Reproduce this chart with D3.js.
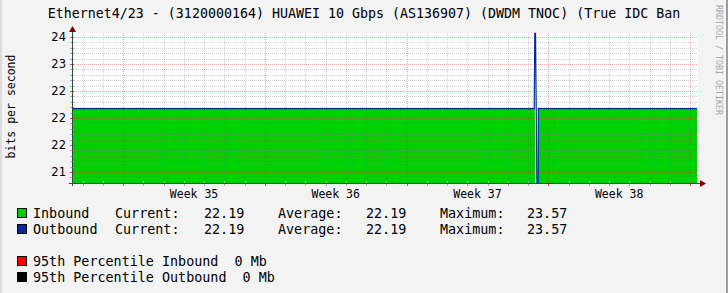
<!DOCTYPE html>
<html>
  <head>
    <meta charset="utf-8" />
    <title>Traffic</title>
    <script src="https://d3js.org/d3.v7.min.js"></script>
    <style>
      body { margin: 0; background: #f3f3f3; }
      svg { display: block; }
      text { font-family: 'DejaVu Sans Mono', monospace; fill: #000; }
    </style>
  </head>
  <body>
    <script>
      const title = 'Ethernet4/23 - (3120000164) HUAWEI 10 Gbps (AS136907) (DWDM TNOC) (True IDC Ban';
      const yTitle = 'bits per second';
      const watermark = 'RRDTOOL / TOBI OETIKER';

      // samples (UTC), values in axis units
      const sampleTimes = [
        '2023-08-25T11:18Z', '2023-09-17T07:20Z', '2023-09-17T08:00Z', '2023-09-17T08:50Z',
        '2023-09-17T10:30Z', '2023-09-17T12:00Z', '2023-09-17T12:10Z', '2023-09-25T08:18Z',
      ];
      const inbound = [22.41, 22.41, 22.41, 0, 0, 0, 22.41, 22.41];
      const outbound = [22.41, 22.41, 24.08, 24.08, 0, 0, 22.41, 22.41];

      const yTicks = [21, 21.6, 22.2, 22.8, 23.4, 24];
      const yTickLabels = ['21', '22', '22', '22', '23', '24'];

      const seriesNames = ['Inbound', 'Outbound'];
      const seriesColors = ['#00cf00', '#002a97'];
      const currentVals = ['22.19', '22.19'];
      const averageVals = ['22.19', '22.19'];
      const maximumVals = ['23.57', '23.57'];

      const pctNames = ['95th Percentile Inbound', '95th Percentile Outbound'];
      const pctVals = ['0 Mb', '0 Mb'];
      const pctColors = ['#ff0000', '#000000'];

      const W = 728, H = 293;
      const pL = 72, pR = 697, pT = 33, pB = 183;

      const svg = d3.select('body').append('svg').attr('width', W).attr('height', H);

      svg.append('rect').attr('width', W).attr('height', H).attr('fill', '#f3f3f3');
      svg.append('rect').attr('x', 0).attr('y', 0).attr('width', 2).attr('height', H).attr('fill', '#dcdcdc');
      svg.append('rect').attr('x', W - 2).attr('y', 0).attr('width', 2).attr('height', H).attr('fill', '#9e9e9e');

      const times = sampleTimes.map((s) => new Date(s));
      const x = d3.scaleUtc().domain([times[0], times[times.length - 1]]).range([pL, pR]);
      const y = d3.scaleLinear().domain([20.7556, 24.0889]).range([pB, pT]).clamp(true);

      // canvas
      svg.append('rect')
        .attr('x', pL).attr('y', pT)
        .attr('width', pR - pL + 1).attr('height', pB - pT)
        .attr('fill', '#fff');

      // inbound area
      const pts = times.map((t, i) => ({ t: t, inb: inbound[i], out: outbound[i] }));
      svg.append('path')
        .datum(pts)
        .attr('fill', seriesColors[0])
        .attr('d', d3.area().x((d) => x(d.t)).y0(y(y.domain()[0])).y1((d) => y(d.inb)));

      // grid
      const grid = svg.append('g').attr('shape-rendering', 'crispEdges');
      const days = d3.utcDay.range(x.domain()[0], x.domain()[1]);
      const weeks = d3.utcMonday.range(d3.utcMonday.floor(x.domain()[0]), x.domain()[1]);
      const isWeek = (d) => d.getUTCDay() === 1;
      const isMajor = (v) => yTicks.some((t) => Math.abs(t - v) < 1e-6);
      const majorCol = 'rgba(220,40,40,0.4)';
      const minorCol = 'rgba(120,120,120,0.35)';
      grid.selectAll('.vg')
        .data(days)
        .join('line')
        .attr('x1', (d) => Math.round(x(d)) + 0.5)
        .attr('x2', (d) => Math.round(x(d)) + 0.5)
        .attr('y1', pT).attr('y2', pB)
        .attr('stroke', (d) => (isWeek(d) ? majorCol : minorCol))
        .attr('stroke-dasharray', '1,1');

      const minor = d3.range(-2, 27).map((k) => 21 + k * 0.12).filter((v) => v > 20.8 && v < 24.08);
      grid.selectAll('.hg')
        .data(minor)
        .join('line')
        .attr('x1', pL).attr('x2', pR)
        .attr('y1', (d) => Math.round(y(d)) + 0.5)
        .attr('y2', (d) => Math.round(y(d)) + 0.5)
        .attr('stroke', (d) => (isMajor(d) ? majorCol : minorCol))
        .attr('stroke-dasharray', '1,1');

      // ticks on the axes
      grid.selectAll('.yt')
        .data(minor)
        .join('line')
        .attr('x1', pL - 2).attr('x2', pL + 2)
        .attr('y1', (d) => Math.round(y(d)) + 0.5)
        .attr('y2', (d) => Math.round(y(d)) + 0.5)
        .attr('stroke', (d) => (isMajor(d) ? '#c85050' : '#aaa'));
      grid.selectAll('.xt')
        .data(days)
        .join('line')
        .attr('x1', (d) => Math.round(x(d)) + 0.5)
        .attr('x2', (d) => Math.round(x(d)) + 0.5)
        .attr('y1', pB - 2).attr('y2', pB + 3)
        .attr('stroke', (d) => (isWeek(d) ? '#c85050' : '#aaa'));

      // outbound line
      svg.append('path')
        .datum(pts)
        .attr('fill', 'none')
        .attr('stroke', seriesColors[1])
        .attr('stroke-width', 1.2)
        .attr('d', d3.line().x((d) => x(d.t)).y((d) => y(d.out)));

      // axes
      const ax = svg.append('g').attr('shape-rendering', 'crispEdges');
      ax.append('line').attr('x1', pL - 3).attr('x2', pR + 3).attr('y1', pB + 0.5).attr('y2', pB + 0.5).attr('stroke', '#2c4d43');
      ax.append('line').attr('x1', pL + 0.5).attr('x2', pL + 0.5).attr('y1', pB + 3).attr('y2', pT - 3).attr('stroke', '#2c4d43');
      svg.append('path').attr('d', `M${pL - 3},${pT - 1}L${pL + 4},${pT - 1}L${pL + 0.5},${pT - 7}Z`).attr('fill', '#7f0000');
      svg.append('path').attr('d', `M${pR + 3},${pB - 3}L${pR + 3},${pB + 4}L${pR + 9},${pB + 0.5}Z`).attr('fill', '#7f0000');

      // y labels
      svg.selectAll('.yl')
        .data(yTicks)
        .join('text')
        .attr('x', 66)
        .attr('y', (d) => y(d) + 4)
        .attr('text-anchor', 'end')
        .style('font-family', "'DejaVu Sans', sans-serif")
        .style('font-size', '11.5px')
        .text((d, i) => yTickLabels[i]);

      // week labels, centred on each week
      const fmtWeek = d3.utcFormat('Week %V');
      const mid = (d) => x(d3.utcHour.offset(d, 84));
      svg.selectAll('.wl')
        .data(weeks.filter((d) => mid(d) > pL + 20 && mid(d) < pR - 20))
        .join('text')
        .attr('x', mid)
        .attr('y', 197.5)
        .attr('text-anchor', 'middle')
        .style('font-size', '11.5px')
        .text((d) => fmtWeek(d));

      svg.append('text')
        .attr('x', 364).attr('y', 18)
        .attr('text-anchor', 'middle')
        .style('font-size', '13.3px')
        .text(title);

      svg.append('text')
        .attr('transform', 'translate(15,106.5) rotate(-90)')
        .attr('text-anchor', 'middle')
        .style('font-size', '11.5px')
        .text(yTitle);

      svg.append('text')
        .attr('transform', 'translate(715.5,5) rotate(90)')
        .style('font-size', '8.3px')
        .style('fill', '#a8a8a8')
        .text(watermark);

      // legend
      const lg = svg.append('g').style('font-size', '13.4px');
      seriesNames.forEach((name, i) => {
        const yy = 213 + i * 16;
        lg.append('rect').attr('x', 17.5).attr('y', yy - 4.5).attr('width', 9).attr('height', 9)
          .attr('fill', seriesColors[i]).attr('stroke', '#000').attr('stroke-width', 1);
        const cols = [
          [33, name], [115, 'Current:'], [204, currentVals[i]], [278, 'Average:'],
          [366, averageVals[i]], [440, 'Maximum:'], [527, maximumVals[i]],
        ];
        cols.forEach((c) => lg.append('text').attr('x', c[0]).attr('y', yy + 5).text(c[1]));
      });
      pctNames.forEach((name, i) => {
        const yy = 261 + i * 16;
        lg.append('rect').attr('x', 17.5).attr('y', yy - 4.5).attr('width', 9).attr('height', 9)
          .attr('fill', pctColors[i]).attr('stroke', '#000').attr('stroke-width', 1);
        const t = lg.append('text').attr('x', 33).attr('y', yy + 5).text(name);
        const w = t.node().getComputedTextLength();
        lg.append('text').attr('x', 33 + w * (name.length + 2) / name.length).attr('y', yy + 5).text(pctVals[i]);
      });
    </script>
  </body>
</html>
